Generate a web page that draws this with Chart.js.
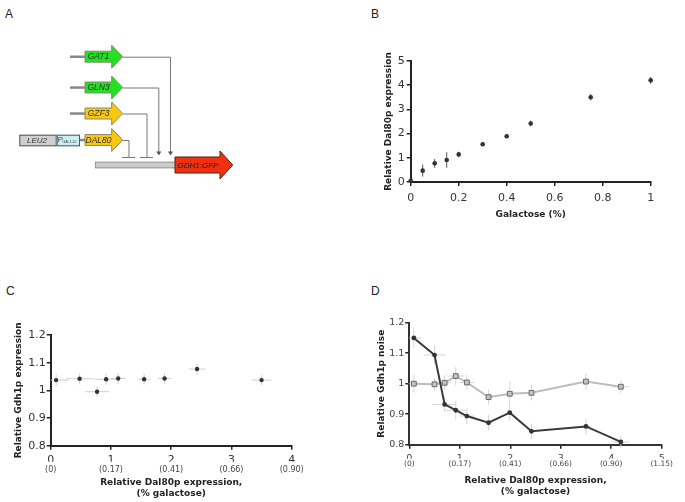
<!DOCTYPE html>
<html lang="en">
<head>
  <meta charset="UTF-8" />
  <title>Dal80p titration and Gdh1p expression</title>
  <script src="https://cdn.jsdelivr.net/npm/chart.js"></script>
  <style>
    body {
      margin: 0;
      width: 685px;
      height: 502px;
      position: relative;
      background: #fff;
      overflow: hidden;
    }
    canvas {
      position: absolute;
    }
    .tag {
      position: absolute;
      font-family: "Liberation Sans", Arial, sans-serif;
      font-size: 12px;
      line-height: 12px;
      color: #222;
    }
  </style>
</head>
<body>
  <div class="tag" style="left:5px;top:8px">A</div>
  <div class="tag" style="left:371px;top:8px">B</div>
  <div class="tag" style="left:6px;top:285px">C</div>
  <div class="tag" style="left:371px;top:285px">D</div>

  <canvas id="chartA" width="250" height="200" style="left:0;top:0"></canvas>
  <canvas id="chartB" width="300" height="190" style="left:360px;top:40px"></canvas>
  <canvas id="chartC" width="310" height="200" style="left:0;top:300px"></canvas>
  <canvas id="chartD" width="320" height="200" style="left:360px;top:300px"></canvas>

  <script>
    // ---- panel A : circuit
    const geneNames = ['GAT1', 'GLN3', 'GZF3', 'DAL80'];
    const geneColors = ['#22e022', '#22e022', '#f8c811', '#f8c811'];
    const geneEffect = ['activates', 'activates', 'represses', 'represses'];
    const markerName = 'LEU2';
    const promoterName = 'GAL1-10';
    const reporterName = 'GDH1:GFP';

    // ---- panel B : Dal80p vs galactose
    const galactose = [0, 0.05, 0.1, 0.15, 0.2, 0.3, 0.4, 0.5, 0.75, 1];
    const dal80Expr = [0.05, 0.47, 0.77, 0.91, 1.14, 1.56, 1.89, 2.42, 3.5, 4.2];
    const dal80Err = [0.08, 0.25, 0.18, 0.32, 0.11, 0.08, 0.06, 0.12, 0.13, 0.14];

    // ---- panel C : Gdh1p expression vs Dal80p
    const cDal80 = [0.09, 0.48, 0.77, 0.92, 1.12, 1.55, 1.89, 2.43, 3.5];
    const cGdh1 = [1.037, 1.042, 0.995, 1.040, 1.043, 1.040, 1.043, 1.077, 1.037];
    const cErrX = [0.2, 0.22, 0.2, 0.2, 0.12, 0.1, 0.11, 0.14, 0.16];
    const cErrY = [0.02, 0.02, 0.018, 0.02, 0.02, 0.02, 0.02, 0.02, 0.018];
    const galLabelsC = ['(0)', '(0.17)', '(0.41)', '(0.66)', '(0.90)'];

    // ---- panel D : Gdh1p noise vs Dal80p
    const dDal80 = [0.09, 0.5, 0.7, 0.92, 1.14, 1.57, 1.99, 2.42, 3.5, 4.19];
    const noiseDark = [1.150, 1.094, 0.932, 0.913, 0.894, 0.872, 0.905, 0.844, 0.860, 0.809];
    const noiseDarkErrX = [0.15, 0.22, 0.24, 0.2, 0.15, 0.05, 0.05, 0.05, 0.08, 0.16];
    const noiseDarkErrY = [0.033, 0.03, 0.023, 0.03, 0.027, 0.025, 0.025, 0.025, 0.025, 0.02];
    const noiseLight = [1.0, 0.998, 1.003, 1.025, 1.004, 0.956, 0.967, 0.970, 1.007, 0.990];
    const noiseLightErrX = [0.1, 0.05, 0.13, 0.17, 0.15, 0.05, 0.05, 0.05, 0.06, 0.17];
    const noiseLightErrY = [0.03, 0.02, 0.025, 0.03, 0.025, 0.025, 0.04, 0.025, 0.027, 0.02];
    const galLabelsD = ['(0)', '(0.17)', '(0.41)', '(0.66)', '(0.90)', '(1.15)'];

    const tickFont = { family: 'DejaVu Sans', size: 11 };
    const titleFont = { family: 'DejaVu Sans', size: 9, weight: 'bold' };
    const round1 = v => String(Math.round(v * 10) / 10);
    const pts = (xs, ys) => xs.map((x, i) => ({ x: x, y: ys[i] }));

    // error bars drawn under the points, from errX / errY on each dataset
    const errorBars = {
      id: 'errorBars',
      beforeDatasetsDraw(chart) {
        const { ctx } = chart;
        const sx = chart.scales.x, sy = chart.scales.y;
        chart.data.datasets.forEach(ds => {
          ctx.save();
          ctx.strokeStyle = ds.errColor || '#ccc';
          ctx.lineWidth = 1;
          ds.data.forEach((p, i) => {
            const px = sx.getPixelForValue(p.x);
            const py = sy.getPixelForValue(p.y);
            ctx.beginPath();
            if (ds.errX) {
              ctx.moveTo(sx.getPixelForValue(Math.max(sx.min, p.x - ds.errX[i])), py);
              ctx.lineTo(sx.getPixelForValue(p.x + ds.errX[i]), py);
            }
            if (ds.errY) {
              ctx.moveTo(px, sy.getPixelForValue(p.y - ds.errY[i]));
              ctx.lineTo(px, sy.getPixelForValue(p.y + ds.errY[i]));
            }
            ctx.stroke();
          });
          ctx.restore();
        });
      }
    };

    // common axis pieces
    function axisX(min, max, step, extra) {
      return Object.assign({
        type: 'linear', min: min, max: max,
        ticks: { stepSize: step, font: tickFont, color: '#333', callback: round1, maxRotation: 0 },
        grid: { drawOnChartArea: false, tickLength: 4, color: '#222', lineWidth: 1.5 },
        border: { color: '#222', width: 2 }
      }, extra);
    }
    function axisY(min, max, step, extra) {
      return Object.assign({
        type: 'linear', min: min, max: max,
        ticks: { stepSize: step, font: tickFont, color: '#333', callback: round1, padding: 2 },
        grid: { drawOnChartArea: false, tickLength: 4, color: '#222', lineWidth: 1.5 },
        border: { color: '#222', width: 2 }
      }, extra);
    }
    // second row of x labels: galactose % under each Dal80p tick
    function axisGal(max, labels, size, pad, titlePad, h) {
      return {
        type: 'linear', position: 'bottom', weight: 1, min: 0, max: max,
        ticks: { stepSize: 1, font: { family: 'DejaVu Sans', size: size }, color: '#444', padding: pad,
                 maxRotation: 0, callback: v => labels[Math.round(v)] },
        grid: { display: false, drawTicks: false, tickLength: 0 },
        border: { display: false },
        title: { display: true, text: ['Relative Dal80p expression,', '(% galactose)'], font: titleFont,
                 color: '#222', padding: { top: 0, bottom: titlePad } },
        afterFit: s => { s.height = h; }
      };
    }
    const baseOptions = {
      responsive: false,
      animation: false,
      plugins: { legend: { display: false }, tooltip: { enabled: false } }
    };

    // ---------------- A
    const circuit = {
      id: 'circuit',
      afterDraw(chart) {
        const { ctx } = chart;
        const X = v => chart.scales.x.getPixelForValue(v);
        const Y = v => chart.scales.y.getPixelForValue(v);
        const rows = [56.7, 87.5, 113.5, 140];

        function arrow(x0, xh, xt, yc, hb, hh, fill, stroke) {
          ctx.beginPath();
          ctx.moveTo(X(x0), Y(yc - hb));
          ctx.lineTo(X(xh), Y(yc - hb));
          ctx.lineTo(X(xh), Y(yc - hh));
          ctx.lineTo(X(xt), Y(yc));
          ctx.lineTo(X(xh), Y(yc + hh));
          ctx.lineTo(X(xh), Y(yc + hb));
          ctx.lineTo(X(x0), Y(yc + hb));
          ctx.closePath();
          ctx.fillStyle = fill;
          ctx.fill();
          ctx.strokeStyle = stroke;
          ctx.lineWidth = 1;
          ctx.stroke();
        }
        function box(x0, y0, x1, y1, fill, stroke) {
          ctx.fillStyle = fill;
          ctx.fillRect(X(x0), Y(y0), X(x1) - X(x0), Y(y1) - Y(y0));
          ctx.strokeStyle = stroke;
          ctx.lineWidth = 1;
          ctx.strokeRect(X(x0) + 0.5, Y(y0) + 0.5, X(x1) - X(x0) - 1, Y(y1) - Y(y0) - 1);
        }
        function label(txt, x, y, size, color) {
          ctx.font = 'italic ' + size + 'px "Liberation Sans", Arial, sans-serif';
          ctx.fillStyle = color || '#333';
          ctx.textAlign = 'center';
          ctx.textBaseline = 'middle';
          ctx.fillText(txt, X(x), Y(y));
        }

        ctx.save();
        // connectors to the reporter
        const drop = [170, 158.3, 146.5, 128.5];
        ctx.strokeStyle = '#777';
        ctx.fillStyle = '#555';
        ctx.lineWidth = 1;
        geneNames.forEach((g, i) => {
          const yc = rows[i];
          const xd = drop[i];
          const yEnd = geneEffect[i] === 'activates' ? 152 : 157;
          ctx.beginPath();
          ctx.moveTo(X(123), Y(yc) + 0.5);
          ctx.lineTo(X(xd) + 0.5, Y(yc) + 0.5);
          ctx.lineTo(X(xd) + 0.5, Y(yEnd));
          ctx.stroke();
          if (geneEffect[i] === 'activates') {
            ctx.beginPath();
            ctx.moveTo(X(xd - 2), Y(151.5));
            ctx.lineTo(X(xd + 3), Y(151.5));
            ctx.lineTo(X(xd + 0.5), Y(155.5));
            ctx.closePath();
            ctx.fill();
          } else {
            ctx.beginPath();
            ctx.moveTo(X(xd - 6.5), Y(157) + 0.5);
            ctx.lineTo(X(xd + 6.5), Y(157) + 0.5);
            ctx.stroke();
          }
        });

        // genes
        geneNames.forEach((g, i) => {
          const yc = rows[i];
          ctx.fillStyle = '#888';
          ctx.fillRect(X(i === 3 ? 80 : 70), Y(yc - 1.2), X(85) - X(i === 3 ? 80 : 70), 2.5);
          arrow(85, 111.7, 122.7, yc, 5.5, 11.5, geneColors[i], '#8a8a6a');
          label(g, 98.5, yc + 0.3, 8.5);
        });

        // marker + promoter in front of DAL80
        box(19.3, 134.7, 56.7, 146.3, '#cfcfcf', '#555');
        label(markerName, 37, 140.5, 8);
        box(56.7, 134.7, 80, 146.3, '#cdeef0', '#555');
        ctx.font = '8px "Liberation Sans", Arial, sans-serif';
        ctx.fillStyle = '#444';
        ctx.textAlign = 'left';
        ctx.textBaseline = 'middle';
        ctx.fillText('P', X(57.8), Y(139.5));
        ctx.font = '3.5px "Liberation Sans", Arial, sans-serif';
        ctx.fillText(promoterName, X(62.5), Y(142));

        // reporter
        box(95, 161.7, 176, 168.3, '#cccccc', '#999');
        arrow(175, 220, 232.7, 165, 8, 14, '#f03010', '#552211');
        label(reporterName, 198, 165.3, 8, '#222');
        ctx.restore();
      }
    };

    new Chart(document.getElementById('chartA'), {
      type: 'scatter',
      data: { datasets: [{ data: [] }] },
      options: Object.assign({}, baseOptions, {
        layout: { padding: 0 },
        scales: {
          x: { type: 'linear', min: 0, max: 250, display: false },
          y: { type: 'linear', min: 0, max: 200, reverse: true, display: false }
        }
      }),
      plugins: [circuit]
    });

    // ---------------- B
    const chartB = new Chart(document.getElementById('chartB'), {
      type: 'scatter',
      data: {
        datasets: [{
          data: pts(galactose, dal80Expr),
          errY: dal80Err,
          errColor: '#555',
          pointRadius: 2.3,
          pointBorderWidth: 0,
          backgroundColor: '#333',
          borderColor: '#333',
          clip: false
        }]
      },
      options: Object.assign({}, baseOptions, {
        layout: { padding: { top: 21, right: 9.3, left: 0, bottom: 0 } },
        scales: {
          x: axisX(0, 1, 0.2, {
            title: { display: true, text: 'Galactose (%)', font: titleFont, color: '#222', padding: { top: 0, bottom: 9.6 } },
            afterFit: s => { s.height = 48; }
          }),
          y: axisY(0, 5, 1, {
            title: { display: true, text: 'Relative Dal80p expression', font: titleFont, color: '#222', padding: { top: 23.6, bottom: 0 } },
            afterFit: s => { s.width = 50.7; }
          })
        }
      }),
      plugins: [errorBars]
    });
    chartB.options.scales.x.ticks.padding = 5.1;
    chartB.update();

    // ---------------- C
    const chartC = new Chart(document.getElementById('chartC'), {
      type: 'scatter',
      data: {
        datasets: [{
          data: pts(cDal80, cGdh1),
          errX: cErrX,
          errY: cErrY,
          errColor: '#cfcfcf',
          pointRadius: 2.2,
          pointBorderWidth: 0,
          backgroundColor: '#333',
          borderColor: '#333',
          clip: false
        }]
      },
      options: Object.assign({}, baseOptions, {
        layout: { padding: { top: 35, right: 18.3, left: 0, bottom: 0 } },
        scales: {
          x: axisX(0, 4, 1, { afterFit: s => { s.height = 16; } }),
          x2: axisGal(4, galLabelsC, 8, 3.5, 1.1, 38.3),
          y: axisY(0.8, 1.2, 0.1, {
            title: { display: true, text: 'Relative Gdh1p expression', font: titleFont, color: '#222', padding: { top: 13.4, bottom: 0 } },
            afterFit: s => { s.width = 50.7; }
          })
        }
      }),
      plugins: [errorBars]
    });
    chartC.options.scales.x.ticks.padding = 4.2;
    chartC.options.scales.y.ticks.padding = 1;
    chartC.update();

    // ---------------- D
    const smallTick = { family: 'DejaVu Sans', size: 9.5 };
    const chartD = new Chart(document.getElementById('chartD'), {
      type: 'scatter',
      data: {
        datasets: [{
          data: pts(dDal80, noiseDark),
          errX: noiseDarkErrX,
          errY: noiseDarkErrY,
          errColor: '#d4d4d4',
          showLine: true,
          borderColor: '#3a3a3a',
          borderWidth: 2,
          pointRadius: 2.4,
          pointBorderWidth: 0,
          backgroundColor: '#333',
          pointBorderColor: '#333',
          clip: false
        }, {
          data: pts(dDal80, noiseLight),
          errX: noiseLightErrX,
          errY: noiseLightErrY,
          errColor: '#d4d4d4',
          showLine: true,
          borderColor: '#bdbdbd',
          borderWidth: 2,
          pointStyle: 'rect',
          pointRadius: 3.4,
          backgroundColor: '#c4c4c4',
          pointBorderColor: '#6a6a6a',
          pointBorderWidth: 1,
          clip: false
        }]
      },
      options: Object.assign({}, baseOptions, {
        layout: { padding: { top: 22.7, right: 18.3, left: 0, bottom: 0 } },
        scales: {
          x: axisX(0, 5, 1, { afterFit: s => { s.height = 14; } }),
          x2: axisGal(5, galLabelsD, 7.5, 1.1, 3.1, 41.3),
          y: axisY(0.8, 1.2, 0.1, {
            title: { display: true, text: 'Relative Gdh1p noise', font: titleFont, color: '#222', padding: { top: 16.6, bottom: 0 } },
            afterFit: s => { s.width = 49.3; }
          })
        }
      }),
      plugins: [errorBars]
    });
    chartD.options.scales.x.ticks.font = smallTick;
    chartD.options.scales.x.ticks.color = '#444';
    chartD.options.scales.x.ticks.padding = 3.9;
    chartD.options.scales.y.ticks.font = smallTick;
    chartD.options.scales.y.ticks.color = '#444';
    chartD.options.scales.y.ticks.padding = 1;
    chartD.options.scales.x.border.color = '#333';
    chartD.options.scales.y.border.color = '#333';
    chartD.update();
  </script>
</body>
</html>
